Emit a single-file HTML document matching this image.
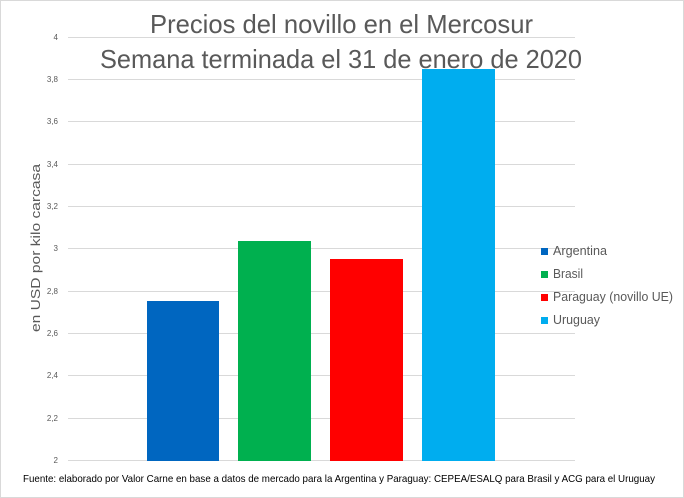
<!DOCTYPE html>
<html><head><meta charset="utf-8"><style>
body{margin:0;background:#fff;}
svg{display:block;font-family:"Liberation Sans",sans-serif;}
</style></head><body>
<svg width="684" height="498" viewBox="0 0 684 498">
<rect x="0.5" y="0.5" width="683" height="497" fill="#fff" stroke="#d9d9d9"/>
<g stroke="#d9d9d9" stroke-width="1">
<line x1="68" x2="575" y1="37.5" y2="37.5"/>
<line x1="68" x2="575" y1="79.5" y2="79.5"/>
<line x1="68" x2="575" y1="121.5" y2="121.5"/>
<line x1="68" x2="575" y1="164.5" y2="164.5"/>
<line x1="68" x2="575" y1="206.5" y2="206.5"/>
<line x1="68" x2="575" y1="248.5" y2="248.5"/>
<line x1="68" x2="575" y1="291.5" y2="291.5"/>
<line x1="68" x2="575" y1="333.5" y2="333.5"/>
<line x1="68" x2="575" y1="375.5" y2="375.5"/>
<line x1="68" x2="575" y1="418.5" y2="418.5"/>
<line x1="68" x2="575" y1="460.5" y2="460.5"/>
</g>
<g font-size="8" fill="#595959" text-anchor="end">
<text x="58" y="40">4</text><text x="58" y="82">3,8</text><text x="58" y="124">3,6</text>
<text x="58" y="167">3,4</text><text x="58" y="209">3,2</text><text x="58" y="251">3</text>
<text x="58" y="294">2,8</text><text x="58" y="336">2,6</text><text x="58" y="378">2,4</text>
<text x="58" y="421">2,2</text><text x="58" y="463">2</text>
</g>
<rect x="147" y="301" width="72" height="160" fill="#0066c0"/>
<rect x="238" y="241" width="73" height="220" fill="#00b04f"/>
<rect x="330" y="259" width="73" height="202" fill="#ff0000"/>
<rect x="422" y="69" width="73" height="392" fill="#00adef"/>
<g font-size="26" fill="#595959">
<text x="150" y="33" textLength="383" lengthAdjust="spacingAndGlyphs">Precios del novillo en el Mercosur</text>
<text x="100" y="68" textLength="482" lengthAdjust="spacingAndGlyphs">Semana terminada el 31 de enero de 2020</text>
</g>
<text transform="translate(40,332) rotate(-90)" font-size="13" fill="#595959" textLength="168" lengthAdjust="spacingAndGlyphs">en USD por kilo carcasa</text>
<g font-size="13" fill="#595959">
<rect x="541" y="248" width="7" height="7" fill="#0066c0"/><text x="553" y="255" textLength="54" lengthAdjust="spacingAndGlyphs">Argentina</text>
<rect x="541" y="271" width="7" height="7" fill="#00b04f"/><text x="553" y="278" textLength="30" lengthAdjust="spacingAndGlyphs">Brasil</text>
<rect x="541" y="294" width="7" height="7" fill="#ff0000"/><text x="553" y="301" textLength="120" lengthAdjust="spacingAndGlyphs">Paraguay (novillo UE)</text>
<rect x="541" y="317" width="7" height="7" fill="#00adef"/><text x="553" y="324" textLength="47" lengthAdjust="spacingAndGlyphs">Uruguay</text>
</g>
<text x="23" y="482" font-size="10.5" fill="#000" textLength="632" lengthAdjust="spacingAndGlyphs">Fuente: elaborado por Valor Carne en base a datos de mercado para la Argentina y Paraguay: CEPEA/ESALQ para Brasil y ACG para el Uruguay</text>
</svg>
</body></html>
